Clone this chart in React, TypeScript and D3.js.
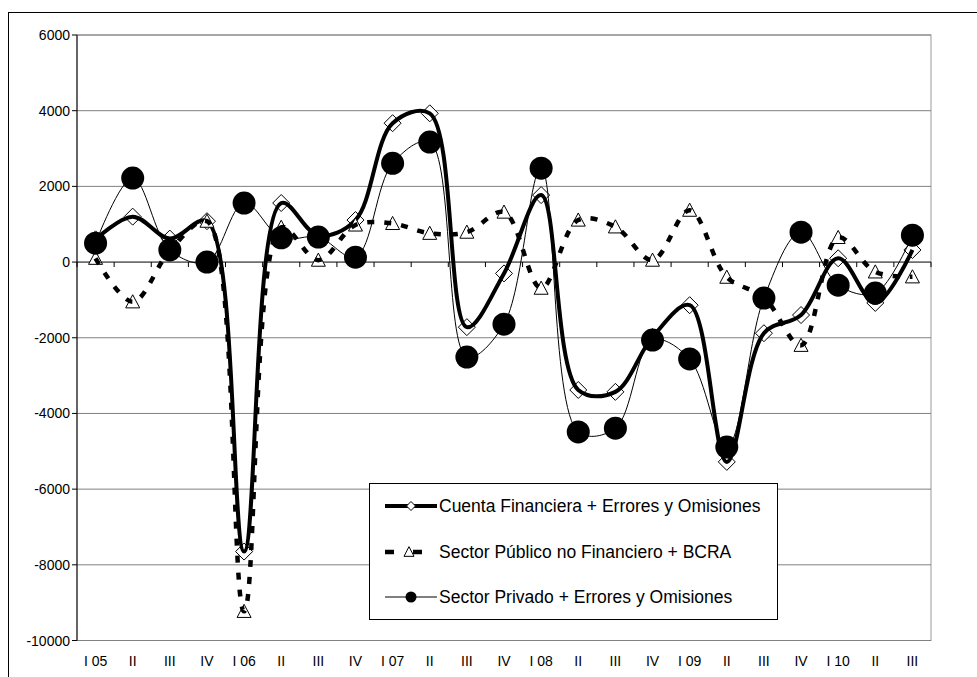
import React from 'react';
import * as d3 from 'd3';

const quarters = [
  'I 05', 'II', 'III', 'IV',
  'I 06', 'II', 'III', 'IV',
  'I 07', 'II', 'III', 'IV',
  'I 08', 'II', 'III', 'IV',
  'I 09', 'II', 'III', 'IV',
  'I 10', 'II', 'III',
];

// millones de US$
const cuentaFinanciera = [
  600, 1200, 620, 1080, -7650, 1560, 700, 1110, 3670, 3930, -1720, -300,
  1770, -3380, -3430, -1980, -1140, -5280, -1880, -1400, 100, -1080, 320,
];
const sectorPublico = [
  100, -1050, 300, 1080, -9230, 920, 50, 980, 1020, 760, 790, 1320,
  -690, 1110, 930, 50, 1370, -400, -930, -2200, 650, -260, -390,
];
const sectorPrivado = [
  500, 2220, 320, 0, 1560, 640, 660, 130, 2610, 3170, -2510, -1640,
  2480, -4490, -4390, -2060, -2560, -4890, -950, 790, -610, -820, 710,
];

const yTicks = [-10000, -8000, -6000, -4000, -2000, 0, 2000, 4000, 6000];

const legendLabels = [
  'Cuenta Financiera + Errores y Omisiones',
  'Sector Público no Financiero + BCRA',
  'Sector Privado + Errores y Omisiones',
];

const W = 977;
const H = 677;
const plot = { left: 77, right: 931, top: 35, bottom: 640.5 };
const font = 'Arial, "Liberation Sans", sans-serif';

const diamondPath = (cx: number, cy: number, r: number) =>
  `M${cx},${cy - r}L${cx + r},${cy}L${cx},${cy + r}L${cx - r},${cy}Z`;

const trianglePath = (cx: number, cy: number, s: number) => {
  const h = (s * Math.sqrt(3)) / 2;
  return `M${cx},${cy - h / 2 - 1}L${cx + s / 2},${cy + h / 2}L${cx - s / 2},${cy + h / 2}Z`;
};

const App = () => {
  const x = d3
    .scaleBand<number>()
    .domain(d3.range(quarters.length))
    .range([plot.left, plot.right])
    .padding(0);
  const y = d3.scaleLinear().domain([-10000, 6000]).range([plot.bottom, plot.top]);
  const cx = (i: number) => (x(i) as number) + x.bandwidth() / 2;

  // Excel-like smoothed line
  const smooth = d3
    .line<number>()
    .x((_, i) => cx(i))
    .y((v) => y(v))
    .curve(d3.curveCatmullRom.alpha(0.5));

  const boundaries = d3.range(quarters.length + 1).map((i) =>
    i < quarters.length ? (x(i) as number) : plot.right
  );

  const legendX = 369;
  const legendY = 483;
  const rowY = [506, 552, 597];

  return (
    <svg
      width={W}
      height={H}
      style={{ position: 'absolute', left: 0, top: 0 }}
      fontFamily={font}
    >
      <rect x={0} y={0} width={W} height={H} fill="#fff" />
      {/* chart frame */}
      <rect x={8.5} y={12.5} width={1000} height={700} fill="none" stroke="#000" />

      {/* plot area + gridlines */}
      <rect
        x={plot.left}
        y={plot.top}
        width={plot.right - plot.left}
        height={plot.bottom - plot.top}
        fill="none"
        stroke="#999"
      />
      {yTicks.map((t) => (
        <line
          key={'g' + t}
          x1={plot.left}
          x2={plot.right}
          y1={y(t)}
          y2={y(t)}
          stroke={t === 0 ? '#000' : '#808080'}
          strokeWidth={1}
        />
      ))}

      {/* y axis */}
      <line x1={plot.left} x2={plot.left} y1={plot.top} y2={plot.bottom} stroke="#000" />
      {yTicks.map((t) => (
        <g key={'y' + t}>
          <line x1={plot.left - 5} x2={plot.left} y1={y(t)} y2={y(t)} stroke="#000" />
          <text
            x={plot.left - 7}
            y={y(t)}
            textAnchor="end"
            dominantBaseline="central"
            fontSize={14}
            fill="#000"
          >
            {t}
          </text>
        </g>
      ))}

      {/* x axis on zero line */}
      {boundaries.map((bx, i) => (
        <line key={'xt' + i} x1={bx} x2={bx} y1={y(0)} y2={y(0) + 5} stroke="#000" />
      ))}
      {quarters.map((q, i) => (
        <text
          key={'xl' + i}
          x={cx(i)}
          y={661}
          textAnchor="middle"
          dominantBaseline="central"
          fontSize={14}
          fill="#000"
        >
          {q}
        </text>
      ))}

      {/* Cuenta Financiera + E&O */}
      {cuentaFinanciera.map((v, i) => (
        <path
          key={'d' + i}
          d={diamondPath(cx(i), y(v), 8.5)}
          fill="#fff"
          stroke="#000"
          strokeWidth={1}
        />
      ))}
      <path d={smooth(cuentaFinanciera) || ''} fill="none" stroke="#000" strokeWidth={4} />

      {/* Sector Público no Financiero + BCRA */}
      {sectorPublico.map((v, i) => (
        <path
          key={'t' + i}
          d={trianglePath(cx(i), y(v), 14)}
          fill="#fff"
          stroke="#000"
          strokeWidth={1}
        />
      ))}
      <path
        d={smooth(sectorPublico) || ''}
        fill="none"
        stroke="#000"
        strokeWidth={4.5}
        strokeDasharray="7 10"
      />

      {/* Sector Privado + E&O */}
      <path d={smooth(sectorPrivado) || ''} fill="none" stroke="#000" strokeWidth={1} />
      {sectorPrivado.map((v, i) => (
        <circle key={'c' + i} cx={cx(i)} cy={y(v)} r={11.5} fill="#000" />
      ))}

      {/* legend */}
      <rect
        x={legendX + 0.5}
        y={legendY + 0.5}
        width={408}
        height={136}
        fill="#fff"
        stroke="#000"
      />
      <line x1={385} x2={437} y1={rowY[0]} y2={rowY[0]} stroke="#000" strokeWidth={4} />
      <path d={diamondPath(411, rowY[0], 4.5)} fill="#fff" stroke="#000" />
      <line
        x1={385}
        x2={437}
        y1={rowY[1]}
        y2={rowY[1]}
        stroke="#000"
        strokeWidth={4.5}
        strokeDasharray="9 19"
      />
      <path d={trianglePath(409, rowY[1], 10)} fill="#fff" stroke="#000" />
      <line x1={385} x2={437} y1={rowY[2]} y2={rowY[2]} stroke="#000" strokeWidth={1} />
      <circle cx={411} cy={rowY[2]} r={5.5} fill="#000" />
      {legendLabels.map((l, i) => (
        <text
          key={'l' + i}
          x={439}
          y={rowY[i]}
          dominantBaseline="central"
          fontSize={17.5}
          fill="#000"
        >
          {l}
        </text>
      ))}
    </svg>
  );
};

export default App;
